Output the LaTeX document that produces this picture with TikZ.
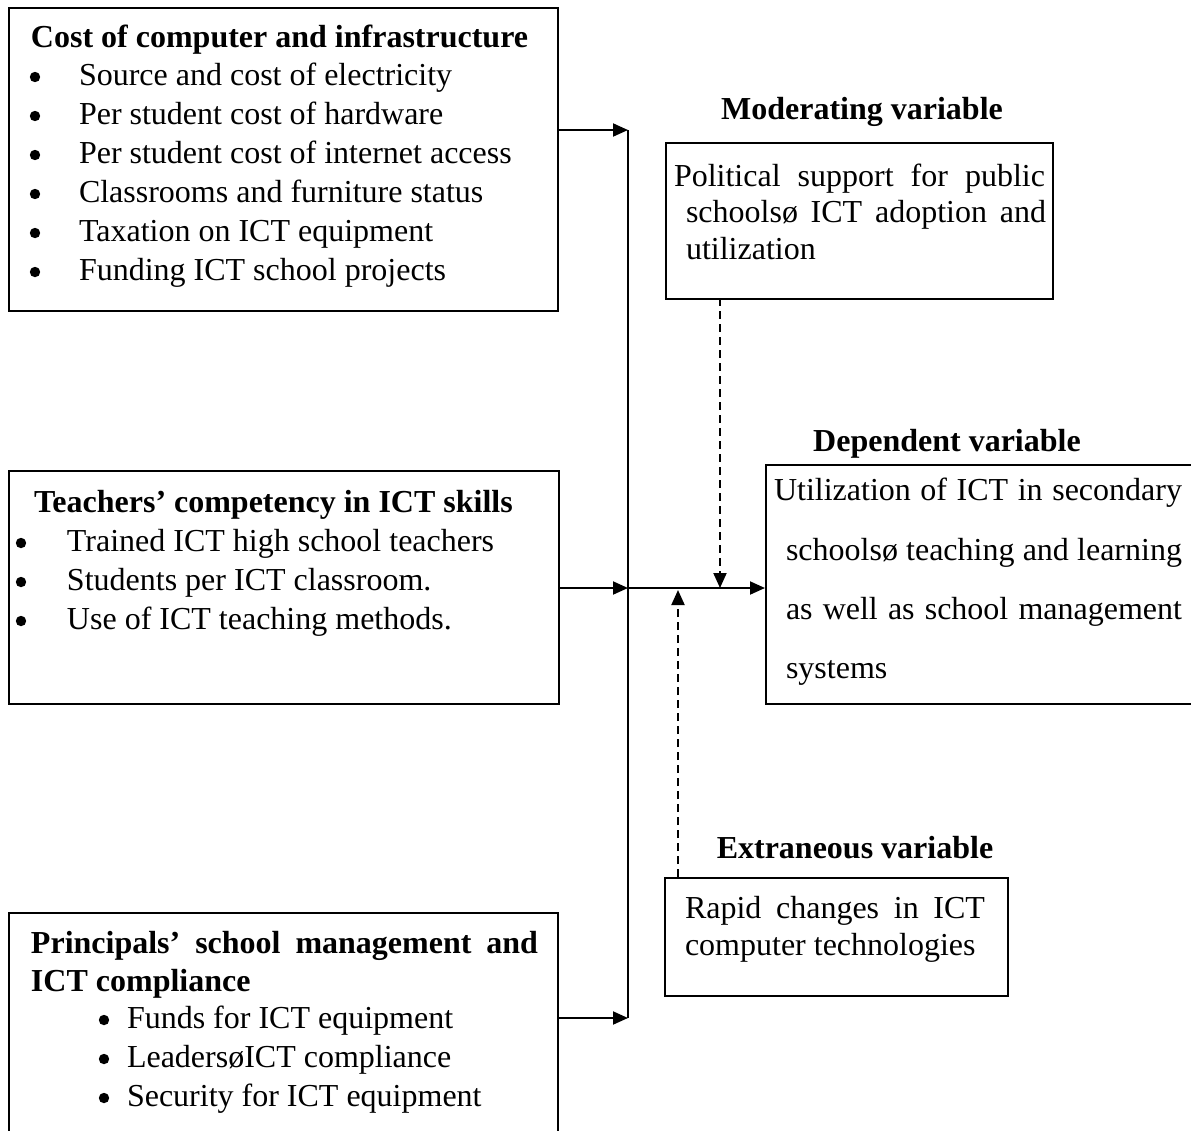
\documentclass[tikz,border=0pt]{standalone}
\usepackage{fontspec}
\setmainfont{Liberation Serif}
\usetikzlibrary{arrows.meta}

\begin{document}
\begin{tikzpicture}[
            x = 0.5pt, y = -0.5pt, % one unit = one pixel, y going down
            > = {Triangle[length=7.5pt, width=6.5pt]}, % arrow head style
            line width = 1pt, % line style
            box/.style = {draw, rectangle, inner sep=0pt, anchor=north west},
            txt/.style = {anchor=base west, inner sep=0pt,
                font=\fontsize{16pt}{19.5pt}\selectfont},
            hd/.style = {txt, font=\fontsize{16pt}{19.5pt}\selectfont\bfseries},
            lbl/.style = {hd, anchor=base},
            dot/.style = {circle, fill, inner sep=0pt, minimum size=5.2pt}
        ]

        \useasboundingbox (0,0) rectangle (1191,1131);
        \clip (0,0) rectangle (1191,1131);

        % independent variables
        \node[box, minimum width=274.5pt, minimum height=151.5pt] (cost) at (8,7) {};
        \node[box, minimum width=275pt, minimum height=116.5pt] (teach) at (8,470) {};
        \node[box, minimum width=274.5pt, minimum height=120pt] (princ) at (8,912) {};

        \node[hd] (costT) at (30,47) {Cost of computer and infrastructure};
        \node[dot] (c1) at (35,77) {};
        \node[dot] (c2) at (35,116) {};
        \node[dot] (c3) at (35,155) {};
        \node[dot] (c4) at (35,194) {};
        \node[dot] (c5) at (35,233) {};
        \node[dot] (c6) at (35,272) {};
        \node[txt] (cost1) at (78,85) {Source and cost of electricity};
        \node[txt] (cost2) at (78,124) {Per student cost of hardware};
        \node[txt] (cost3) at (78,163) {Per student cost of internet access};
        \node[txt] (cost4) at (78,202) {Classrooms and furniture status};
        \node[txt] (cost5) at (78,241) {Taxation on ICT equipment};
        \node[txt] (cost6) at (78,280) {Funding ICT school projects};

        \node[hd] (teachT) at (33,512) {Teachers’ competency in ICT skills};
        \node[dot] (t1) at (21,543) {};
        \node[dot] (t2) at (21,582) {};
        \node[dot] (t3) at (21,621) {};
        \node[txt] (teach1) at (66,551) {Trained ICT high school teachers};
        \node[txt] (teach2) at (66,590) {Students per ICT classroom.};
        \node[txt] (teach3) at (66,629) {Use of ICT teaching methods.};

        \node[hd] (princT) at (30,953) {\makebox[253.5pt][s]{Principals’ school management and}};
        \node[hd] (princT2) at (30,991) {ICT compliance};
        \node[dot] (p1) at (104,1020) {};
        \node[dot] (p2) at (104,1059) {};
        \node[dot] (p3) at (104,1098) {};
        \node[txt] (princ1) at (126,1028) {Funds for ICT equipment};
        \node[txt] (princ2) at (126,1067) {LeadersøICT compliance};
        \node[txt] (princ3) at (126,1106) {Security for ICT equipment};

        % moderating variable
        \node[lbl] (modL) at (862,119) {Moderating variable};
        \node[box, minimum width=193.5pt, minimum height=78pt] (mod) at (665,142) {};
        \node[txt] (mod1) at (673,186) {\makebox[185.5pt][s]{Political support for public}};
        \node[txt] (mod2) at (685,222) {\makebox[180pt][s]{schoolsø ICT adoption and}};
        \node[txt] (mod3) at (685,259) {utilization};

        % dependent variable
        \node[lbl] (depL) at (947,451) {Dependent variable};
        \node[box, minimum width=220pt, minimum height=119.5pt] (dep) at (765,464) {};
        \node[txt] (dep1) at (773,500) {\makebox[204pt][s]{Utilization of ICT in secondary}};
        \node[txt] (dep2) at (785,560) {\makebox[198pt][s]{schoolsø teaching and learning}};
        \node[txt] (dep3) at (785,619) {\makebox[198pt][s]{as well as school management}};
        \node[txt] (dep4) at (785,678) {systems};

        % extraneous variable
        \node[lbl] (extL) at (855,858) {Extraneous variable};
        \node[box, minimum width=171.5pt, minimum height=59pt] (ext) at (664,877) {};
        \node[txt] (ext1) at (684,918) {\makebox[150pt][s]{Rapid changes in ICT}};
        \node[txt] (ext2) at (684,955) {computer technologies};

        % connectors
        \coordinate (jtop) at (628,130);
        \coordinate (jmid) at (628,588);
        \coordinate (jbot) at (628,1018);
        \coordinate (modfoot) at (720,298);
        \coordinate (exthead) at (678,877);

        \draw (jtop) -- (jbot);
        \draw[->] (cost.east |- jtop) -- (jtop);
        \draw[->] (teach.east |- jmid) -- (jmid);
        \draw[->] (princ.east |- jbot) -- (jbot);
        \draw[->] (jmid) -- (dep.west |- jmid);
        \draw[->, dash pattern=on 4pt off 2.5pt] (modfoot) -- (modfoot |- jmid);
        \draw[->, dash pattern=on 4pt off 2.5pt] (exthead) -- ([yshift=-1pt]exthead |- jmid);

  \end{tikzpicture}
\end{document}
